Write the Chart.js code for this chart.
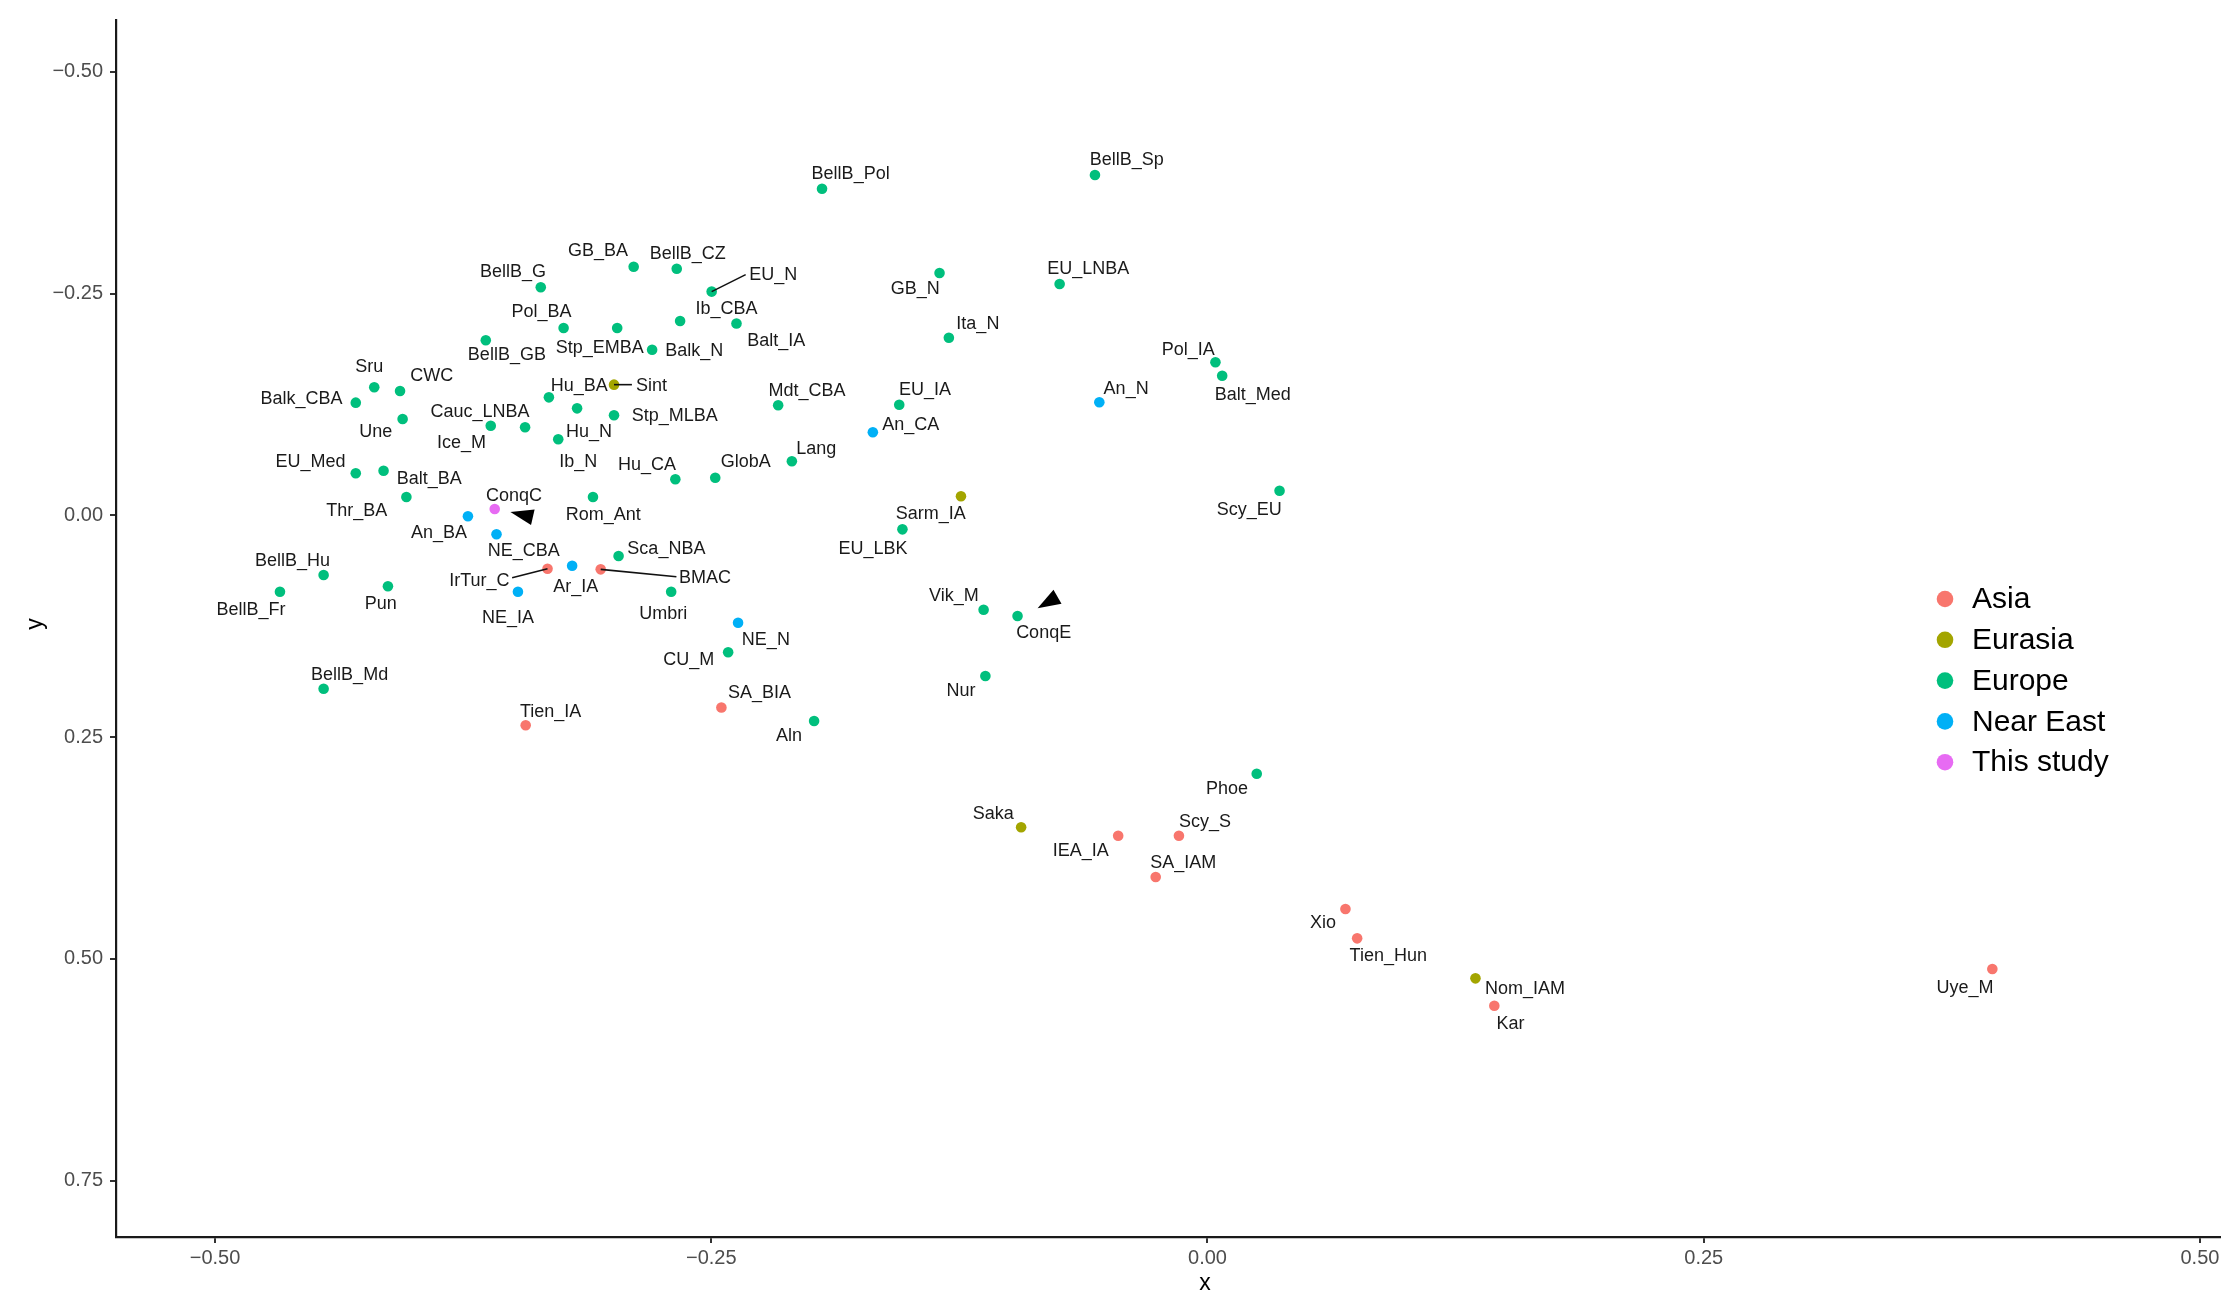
<!DOCTYPE html>
<html>
<head>
<meta charset="utf-8">
<script src="https://cdn.jsdelivr.net/npm/chart.js@4.4.1/dist/chart.umd.min.js"></script>
<style>
  html, body { margin: 0; padding: 0; background: #fff; }
  canvas { display: block; }
</style>
</head>
<body>
<canvas id="chart" width="2237" height="1308"></canvas>
<script>
// ---- data ----
const asiaNames = ['IrTur_C', 'BMAC', 'Tien_IA', 'SA_BIA', 'IEA_IA', 'Scy_S', 'SA_IAM', 'Xio', 'Tien_Hun', 'Kar', 'Uye_M'];
const asiaX = [-0.3325, -0.3057, -0.3435, -0.2449, -0.0450, -0.0144, -0.0261, 0.0695, 0.0754, 0.1445, 0.3954];
const asiaY = [0.0601, 0.0608, 0.2366, 0.2166, 0.3611, 0.3611, 0.4077, 0.4437, 0.4768, 0.5528, 0.5114];

const eurasiaNames = ['Sint', 'Sarm_IA', 'Saka', 'Nom_IAM'];
const eurasiaX = [-0.2990, -0.1242, -0.0939, 0.1350];
const eurasiaY = [-0.1474, -0.0216, 0.3516, 0.5219];

const europeNames = ['BellB_Pol', 'BellB_Sp', 'GB_BA', 'BellB_CZ', 'BellB_G', 'EU_N', 'GB_N', 'EU_LNBA',
  'Pol_BA', 'Stp_EMBA', 'Ib_CBA', 'Balt_IA', 'BellB_GB', 'Balk_N', 'Ita_N', 'Pol_IA', 'Balt_Med',
  'Sru', 'CWC', 'Balk_CBA', 'Une', 'Hu_BA', 'Hu_N', 'Stp_MLBA', 'Ice_M', 'Cauc_LNBA', 'Ib_N',
  'Mdt_CBA', 'EU_IA', 'Lang', 'GlobA', 'Hu_CA', 'EU_Med', 'Balt_BA', 'Thr_BA', 'Rom_Ant', 'Sca_NBA',
  'EU_LBK', 'Scy_EU', 'BellB_Hu', 'BellB_Fr', 'Pun', 'Umbri', 'Vik_M', 'ConqE', 'CU_M', 'Nur',
  'BellB_Md', 'Aln', 'Phoe'];
const europeX = [-0.1942, -0.0567, -0.2891, -0.2674, -0.3359, -0.2498, -0.1350, -0.0745,
  -0.3244, -0.2974, -0.2657, -0.2373, -0.3636, -0.2798, -0.1303, 0.0040, 0.0074,
  -0.4198, -0.4068, -0.4291, -0.4055, -0.3318, -0.3176, -0.2990, -0.3611, -0.3438, -0.3271,
  -0.2163, -0.1553, -0.2094, -0.2480, -0.2681, -0.4291, -0.4151, -0.4036, -0.3096, -0.2967,
  -0.1537, 0.0363, -0.4453, -0.4673, -0.4129, -0.2702, -0.1128, -0.0957, -0.2415, -0.1119,
  -0.4453, -0.1982, 0.0248];
const europeY = [-0.3683, -0.3838, -0.2804, -0.2781, -0.2572, -0.2523, -0.2733, -0.2609,
  -0.2113, -0.2113, -0.2192, -0.2163, -0.1974, -0.1868, -0.2003, -0.1726, -0.1575,
  -0.1444, -0.1402, -0.1271, -0.1087, -0.1331, -0.1207, -0.1129, -0.1011, -0.0993, -0.0858,
  -0.1241, -0.1248, -0.0610, -0.0425, -0.0407, -0.0475, -0.0504, -0.0207, -0.0207, 0.0458,
  0.0157, -0.0278, 0.0672, 0.0860, 0.0799, 0.0860, 0.1063, 0.1134, 0.1542, 0.1811,
  0.1954, 0.2318, 0.2912];

const nearEastNames = ['An_N', 'An_CA', 'An_BA', 'NE_CBA', 'Ar_IA', 'NE_IA', 'NE_N'];
const nearEastX = [-0.0545, -0.1686, -0.3726, -0.3582, -0.3201, -0.3474, -0.2365];
const nearEastY = [-0.1275, -0.0937, 0.0010, 0.0212, 0.0567, 0.0860, 0.1210];

const studyNames = ['ConqC'];
const studyX = [-0.3591];
const studyY = [-0.0072];

const xTicks = [-0.50, -0.25, 0.00, 0.25, 0.50];
const yTicks = [-0.50, -0.25, 0.00, 0.25, 0.50, 0.75];

// arrows pointing at the two new samples (tip in data units)
const arrowTipX = [-0.3512, -0.0856];
const arrowTipY = [-0.0038, 0.1047];

// ---- layout (label offsets in px relative to the point; optional leader end) ----
const labelOffsets = {
  BellB_Pol: [28.6, -16], BellB_Sp: [31.8, -16.7], GB_BA: [-35.7, -17.4], BellB_CZ: [11, -16.4],
  BellB_G: [-27.8, -16.3], EU_N: [61.6, -18.2, 34, -17], GB_N: [-24.2, 14.7], EU_LNBA: [28.6, -16.3],
  Pol_BA: [-22.2, -17], Stp_EMBA: [-17.5, 18.7], Ib_CBA: [46.4, -13.3], Balt_IA: [39.7, 16.3],
  BellB_GB: [21.1, 13], Balk_N: [42.2, -0.4], Ita_N: [29, -15.7], Pol_IA: [-27.2, -14],
  Balt_Med: [30.5, 18], Sru: [-5, -21.6], CWC: [31.8, -16.7], Balk_CBA: [-54.3, -5.4],
  Une: [-26.8, 11.7], Hu_BA: [30.4, -13.3], Hu_N: [11.8, 22.4], Stp_MLBA: [60.7, -0.3],
  Ice_M: [-29.3, 16], Cauc_LNBA: [-45, -16.6], Ib_N: [20, 21.4], Mdt_CBA: [28.9, -16],
  EU_IA: [25.7, -16], Lang: [24.3, -14], GlobA: [30.4, -17], Hu_CA: [-28.3, -16],
  EU_Med: [-45.3, -12.6], Balt_BA: [45.7, 6.6], Thr_BA: [-49.6, 12.3], Rom_Ant: [10.3, 16.3],
  Sca_NBA: [47.8, -8.3], EU_LBK: [-29.5, 18.7], Scy_EU: [-30.3, 17.6], BellB_Hu: [-31.1, -15.7],
  BellB_Fr: [-29, 17.3], Pun: [-7.2, 16], Umbri: [-7.9, 20.6], Vik_M: [-29.7, -15.4],
  ConqE: [26.1, 16], CU_M: [-39.3, 6.3], Nur: [-24.3, 13], BellB_Md: [26, -15.4],
  Aln: [-25, 14], Phoe: [-29.7, 14],
  An_N: [26.8, -14.6], An_CA: [37.8, -9], An_BA: [-29, 15.4], NE_CBA: [27.2, 15],
  Ar_IA: [3.6, 20.3], NE_IA: [-10, 25], NE_N: [27.8, 15.6],
  IrTur_C: [-68.2, 11.3, -35.4, 9], BMAC: [104.3, 7.4, 75.7, 7.4], Tien_IA: [25, -14.6],
  SA_BIA: [38, -16.3], IEA_IA: [-37.5, 14.3], Scy_S: [26.1, -14.7], SA_IAM: [27.5, -15.3],
  Xio: [-22.5, 12.7], Tien_Hun: [31.1, 16.4], Kar: [16.1, 16.6], Uye_M: [-27.3, 17.7],
  Sint: [37.5, 0, 17.9, 0], Sarm_IA: [-30.3, 16], Saka: [-27.9, -15], Nom_IAM: [49.6, 9],
  ConqC: [19.3, -14.7]
};
const arrowAngles = [Math.atan2(-5.3, -23.1), Math.atan2(11.3, -19.5)];

const FONT = "'Liberation Sans', Arial, Helvetica, sans-serif";

const groups = [
  { label: 'Asia', names: asiaNames, xs: asiaX, ys: asiaY, color: '#F8766D' },
  { label: 'Eurasia', names: eurasiaNames, xs: eurasiaX, ys: eurasiaY, color: '#A3A500' },
  { label: 'Europe', names: europeNames, xs: europeX, ys: europeY, color: '#00BF7D' },
  { label: 'Near East', names: nearEastNames, xs: nearEastX, ys: nearEastY, color: '#00B0F6' },
  { label: 'This study', names: studyNames, xs: studyX, ys: studyY, color: '#E76BF3' },
];

const datasets = groups.map(g => ({
  label: g.label,
  names: g.names,
  data: g.xs.map((x, i) => ({ x: x, y: g.ys[i] })),
  backgroundColor: g.color,
  borderWidth: 0,
  pointRadius: 5.3,
  pointHoverRadius: 5.3,
}));

const labelPlugin = {
  id: 'labels',
  afterDatasetsDraw(chart) {
    const ctx = chart.ctx;
    const xs = chart.scales.x, ys = chart.scales.y;
    ctx.save();
    // arrows
    ctx.fillStyle = '#000';
    arrowTipX.forEach((tx, i) => {
      const px = xs.getPixelForValue(tx), py = ys.getPixelForValue(arrowTipY[i]);
      const a = arrowAngles[i];
      const len = 23, half = 8;
      const bx = px - Math.cos(a) * len, by = py - Math.sin(a) * len;
      ctx.beginPath();
      ctx.moveTo(px, py);
      ctx.lineTo(bx - Math.sin(a) * half, by + Math.cos(a) * half);
      ctx.lineTo(bx + Math.sin(a) * half, by - Math.cos(a) * half);
      ctx.closePath();
      ctx.fill();
    });
    // labels + leader lines
    ctx.font = '18px ' + FONT;
    ctx.textAlign = 'center';
    ctx.textBaseline = 'middle';
    chart.data.datasets.forEach((ds, di) => {
      const meta = chart.getDatasetMeta(di);
      meta.data.forEach((el, j) => {
        const off = labelOffsets[ds.names[j]];
        if (!off) return;
        if (off.length > 2) {
          ctx.strokeStyle = '#111';
          ctx.lineWidth = 1.6;
          ctx.beginPath();
          ctx.moveTo(el.x, el.y);
          ctx.lineTo(el.x + off[2], el.y + off[3]);
          ctx.stroke();
        }
        ctx.fillStyle = '#1a1a1a';
        ctx.fillText(ds.names[j], el.x + off[0], el.y + off[1] + 1.5);
      });
    });
    ctx.restore();
  },
  afterDraw(chart) {
    const ctx = chart.ctx;
    ctx.save();
    // axis titles
    ctx.fillStyle = '#000';
    ctx.font = '23px ' + FONT;
    ctx.textAlign = 'center';
    ctx.textBaseline = 'middle';
    ctx.fillText('x', 1205, 1284);
    ctx.translate(36, 624);
    ctx.rotate(-Math.PI / 2);
    ctx.fillText('y', 0, 0);
    ctx.restore();
    // legend
    ctx.save();
    ctx.font = '30px ' + FONT;
    ctx.textAlign = 'left';
    ctx.textBaseline = 'middle';
    groups.forEach((g, i) => {
      const y = 599 + i * 40.8;
      ctx.fillStyle = g.color;
      ctx.beginPath();
      ctx.arc(1945, y, 8.3, 0, Math.PI * 2);
      ctx.fill();
      ctx.fillStyle = '#000';
      ctx.fillText(g.label, 1972, y + 1);
    });
    ctx.restore();
  }
};

const fmt = v => (v < 0 ? '\u2212' : '') + Math.abs(v).toFixed(2);

new Chart(document.getElementById('chart'), {
  type: 'scatter',
  data: { datasets },
  options: {
    responsive: false,
    devicePixelRatio: 1,
    animation: false,
    layout: { padding: { top: 20, right: 17, left: 0, bottom: 0 } },
    plugins: { legend: { display: false }, tooltip: { enabled: false } },
    scales: {
      x: {
        type: 'linear',
        min: -0.5499,
        max: 0.5101,
        afterBuildTicks: s => { s.ticks = xTicks.map(v => ({ value: v })); },
        afterFit: s => { s.height = 71; },
        border: { display: true, color: '#1a1a1a', width: 2.2 },
        grid: { display: true, drawOnChartArea: false, drawTicks: true, tickLength: 6, color: '#333', lineWidth: 2 },
        ticks: { callback: fmt, color: '#4D4D4D', font: { family: FONT, size: 20 }, padding: 3, maxRotation: 0 },
      },
      y: {
        type: 'linear',
        reverse: true,
        min: -0.5585,
        max: 0.8135,
        afterBuildTicks: s => { s.ticks = yTicks.map(v => ({ value: v })); },
        afterFit: s => { s.width = 116; },
        border: { display: true, color: '#1a1a1a', width: 2.2 },
        grid: { display: true, drawOnChartArea: false, drawTicks: true, tickLength: 6, color: '#333', lineWidth: 2 },
        ticks: { callback: fmt, color: '#4D4D4D', font: { family: FONT, size: 20 }, padding: 7 },
      }
    }
  },
  plugins: [labelPlugin]
});
</script>
</body>
</html>
